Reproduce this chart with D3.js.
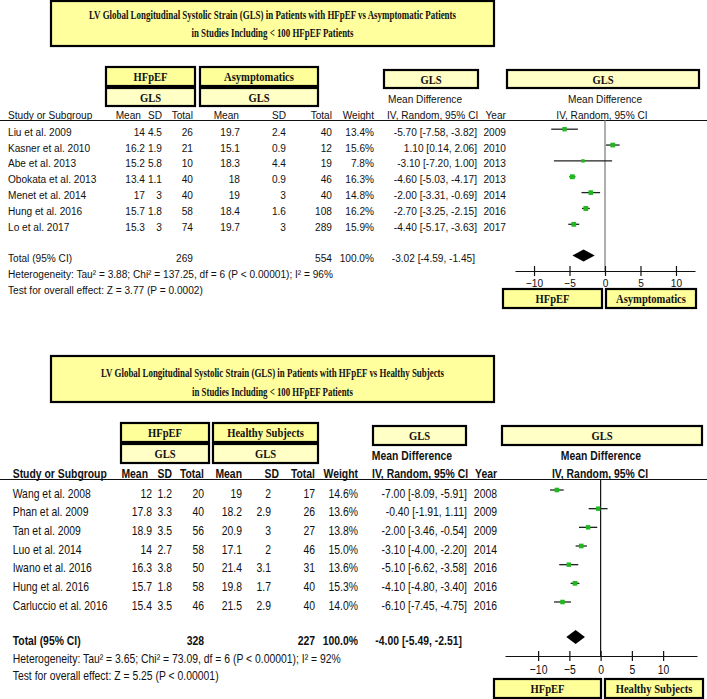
<!DOCTYPE html>
<html><head><meta charset="utf-8">
<script src="https://cdn.jsdelivr.net/npm/d3@7"></script>
<style>html,body{margin:0;padding:0;background:#fff;}svg{display:block;}</style>
</head><body>
<svg id="c" width="707" height="699"></svg>
<script>
// ---------- DATA ----------
const ticks = [-10, -5, 0, 5, 10];

const topTitle = ["LV Global  Longitudinal  Systolic Strain  (GLS)  in  Patients  with  HFpEF vs Asymptomatic  Patients", "in  Studies  Including  < 100 HFpEF Patients"];
const topGroups = ["HFpEF", "Asymptomatics"];
const topStudies = ["Liu et al. 2009", "Kasner et al. 2010", "Abe et al. 2013", "Obokata et al. 2013", "Menet et al. 2014", "Hung et al. 2016", "Lo et al. 2017"];
const topHfMean = [14, 16.2, 15.2, 13.4, 17, 15.7, 15.3];
const topHfSD = [4.5, 1.9, 5.8, 1.1, 3, 1.8, 3];
const topHfN = [26, 21, 10, 40, 40, 58, 74];
const topCtMean = [19.7, 15.1, 18.3, 18, 19, 18.4, 19.7];
const topCtSD = [2.4, 0.9, 4.4, 0.9, 3, 1.6, 3];
const topCtN = [40, 12, 19, 46, 40, 108, 289];
const topWeight = [13.4, 15.6, 7.8, 16.3, 14.8, 16.2, 15.9];
const topMD = [-5.70, 1.10, -3.10, -4.60, -2.00, -2.70, -4.40];
const topLo = [-7.58, 0.14, -7.20, -5.03, -3.31, -3.25, -5.17];
const topHi = [-3.82, 2.06, 1.00, -4.17, -0.69, -2.15, -3.63];
const topYear = [2009, 2010, 2013, 2013, 2014, 2016, 2017];
const topTotals = [269, 554];
const topPooled = [-3.02, -4.59, -1.45];
const topHet = "Heterogeneity: Tau\u00b2 = 3.88; Chi\u00b2 = 137.25, df = 6 (P < 0.00001); I\u00b2 = 96%";
const topTest = "Test for overall effect: Z = 3.77 (P = 0.0002)";

const botTitle = ["LV Global  Longitudinal  Systolic Strain  (GLS)  in  Patients  with  HFpEF vs Healthy  Subjects", "in  Studies  Including  < 100 HFpEF Patients"];
const botGroups = ["HFpEF", "Healthy Subjects"];
const botStudies = ["Wang et al. 2008", "Phan et al. 2009", "Tan et al. 2009", "Luo et al. 2014", "Iwano et al. 2016", "Hung et al. 2016", "Carluccio et al. 2016"];
const botHfMean = [12, 17.8, 18.9, 14, 16.3, 15.7, 15.4];
const botHfSD = [1.2, 3.3, 3.5, 2.7, 3.8, 1.8, 3.5];
const botHfN = [20, 40, 56, 58, 50, 58, 46];
const botCtMean = [19, 18.2, 20.9, 17.1, 21.4, 19.8, 21.5];
const botCtSD = [2, 2.9, 3, 2, 3.1, 1.7, 2.9];
const botCtN = [17, 26, 27, 46, 31, 40, 40];
const botWeight = [14.6, 13.6, 13.8, 15.0, 13.6, 15.3, 14.0];
const botMD = [-7.00, -0.40, -2.00, -3.10, -5.10, -4.10, -6.10];
const botLo = [-8.09, -1.91, -3.46, -4.00, -6.62, -4.80, -7.45];
const botHi = [-5.91, 1.11, -0.54, -2.20, -3.58, -3.40, -4.75];
const botYear = [2008, 2009, 2009, 2014, 2016, 2016, 2016];
const botTotals = [328, 227];
const botPooled = [-4.00, -5.49, -2.51];
const botHet = "Heterogeneity: Tau\u00b2 = 3.65; Chi\u00b2 = 73.09, df = 6 (P < 0.00001); I\u00b2 = 92%";
const botTest = "Test for overall effect: Z = 5.25 (P < 0.00001)";

// ---------- DRAWING ----------
const SANS = "'Liberation Sans', Arial, sans-serif";
const SERIF = "'Liberation Serif', 'Times New Roman', serif";
const svg = d3.select("#c");
const Y1 = "#ffff99", Y2 = "#ffffc6", YT = "#ffff9e";

function T(g, x, y, s, o) {
  o = o || {};
  const size = o.size || 11;
  return g.append("text")
    .attr("transform", `translate(${x},${y + size * 0.35}) scale(${o.sx || 1},1)`)
    .attr("text-anchor", o.a || "start")
    .style("font-family", o.f || SANS)
    .style("font-size", size + "px")
    .style("font-weight", o.w || "normal")
    .attr("fill", "#111")
    .text(s);
}
function box(g, x0, x1, y0, y1, fill, label, o) {
  g.append("rect").attr("x", x0).attr("y", y0).attr("width", x1 - x0).attr("height", y1 - y0)
    .attr("fill", fill).attr("stroke", "#000").attr("stroke-width", 2.2);
  if (label) T(g, (x0 + x1) / 2, (y0 + y1) / 2 + 0.5, label, Object.assign({a: "middle", f: SERIF, w: "bold", size: 11.5, sx: 0.92}, o || {}));
}
function titleBox(g, x0, x1, y0, y1, lines, widths, ys) {
  g.append("rect").attr("x", x0).attr("y", y0).attr("width", x1 - x0).attr("height", y1 - y0)
    .attr("fill", YT).attr("stroke", "#000").attr("stroke-width", 2.2);
  lines.forEach((l, i) => {
    g.append("text").attr("x", (x0 + x1) / 2).attr("y", ys[i] + 4.3).attr("text-anchor", "middle")
      .attr("textLength", widths[i]).attr("lengthAdjust", "spacingAndGlyphs")
      .style("font-family", SERIF).style("font-weight", "bold").style("font-size", "12.5px")
      .attr("fill", "#111").text(l);
  });
}
const f2 = v => v.toFixed(2);
const mdStr = (m, l, h) => `${f2(m)} [${f2(l)}, ${f2(h)}]`;

function panel(cfg) {
  const g = svg.append("g");
  const d = cfg.data, L = cfg.lay, o = {size: L.size, sx: L.sx};
  const ob = Object.assign({}, o, {w: L.hb ? "bold" : "normal"});
  titleBox(g, 51, 494, L.tY0, L.tY1, cfg.title, L.tW, L.tYs);
  // header boxes
  box(g, L.g1[0], L.g1[1], L.bA[0], L.bA[1], Y1, cfg.groups[0]);
  box(g, L.g1[0], L.g1[1], L.bB[0], L.bB[1], Y2, "GLS");
  box(g, L.g2[0], L.g2[1], L.bA[0], L.bA[1], Y1, cfg.groups[1]);
  box(g, L.g2[0], L.g2[1], L.bB[0], L.bB[1], Y2, "GLS");
  box(g, L.mdBox[0], L.mdBox[1], L.bC[0], L.bC[1], Y2, "GLS");
  box(g, L.fBox[0], L.fBox[1], L.bC[0], L.bC[1], Y2, "GLS");
  // header texts
  T(g, L.xName, L.hY, "Study or Subgroup", ob);
  const hc = L.hcols;
  ["Mean", "SD", "Total", "Mean", "SD", "Total", "Weight"].forEach((h, i) => T(g, hc[i], L.hY, h, Object.assign({a: "end"}, ob)));
  T(g, L.mdHC, L.mdHY, "Mean Difference", Object.assign({a: "middle"}, ob));
  T(g, L.ivX, L.hY, "IV, Random, 95% CI", ob);
  T(g, L.yearX, L.hY, "Year", Object.assign({a: "end"}, ob));
  T(g, L.fC, L.mdHY, "Mean Difference", Object.assign({a: "middle"}, ob));
  T(g, L.fC2, L.hY, "IV, Random, 95% CI", Object.assign({a: "middle"}, ob));
  g.append("line").attr("x1", 0).attr("x2", 707).attr("y1", L.hLine).attr("y2", L.hLine).attr("stroke", "#111").attr("stroke-width", 1);

  // rows
  const y = d3.scalePoint().domain(d.studies).range([L.r0, L.r1]);
  const c = L.cols;
  d.studies.forEach((s, i) => {
    const yy = y(s);
    T(g, L.xName, yy, s, o);
    T(g, c[0], yy, String(d.hfMean[i]), Object.assign({a: "end"}, o));
    T(g, c[1], yy, String(d.hfSD[i]), Object.assign({a: "end"}, o));
    T(g, c[2], yy, String(d.hfN[i]), Object.assign({a: "end"}, o));
    T(g, c[3], yy, String(d.ctMean[i]), Object.assign({a: "end"}, o));
    T(g, c[4], yy, String(d.ctSD[i]), Object.assign({a: "end"}, o));
    T(g, c[5], yy, String(d.ctN[i]), Object.assign({a: "end"}, o));
    T(g, c[6], yy, d.weight[i].toFixed(1) + "%", Object.assign({a: "end"}, o));
    T(g, L.mdR, yy, mdStr(d.md[i], d.lo[i], d.hi[i]), Object.assign({a: "end"}, o));
    T(g, L.yearX, yy, String(d.year[i]), Object.assign({a: "end"}, o));
  });
  // totals
  const ot = Object.assign({}, o, {w: L.hb ? "bold" : "normal"});
  T(g, L.xName, L.totY, "Total (95% CI)", ot);
  T(g, c[2], L.totY, String(d.totals[0]), Object.assign({a: "end"}, ot));
  T(g, c[5], L.totY, String(d.totals[1]), Object.assign({a: "end"}, ot));
  T(g, c[6], L.totY, "100.0%", Object.assign({a: "end"}, ot));
  T(g, L.totMdR, L.totY, mdStr(d.pooled[0], d.pooled[1], d.pooled[2]), Object.assign({a: "end"}, ot));
  T(g, L.xName, L.hetY, d.het, o);
  T(g, L.xName, L.testY, d.test, o);

  // forest
  const x = d3.scaleLinear().domain(L.dom).range(L.rng);
  g.append("line").attr("x1", x(0)).attr("x2", x(0)).attr("y1", L.hLine).attr("y2", L.axY)
    .attr("stroke", L.zeroCol).attr("stroke-width", L.zeroW);
  d.studies.forEach((s, i) => {
    const yy = y(s) + L.sqOff;
    g.append("line").attr("x1", x(d.lo[i])).attr("x2", x(d.hi[i])).attr("y1", yy).attr("y2", yy)
      .attr("stroke", "#222").attr("stroke-width", 1.3);
    const sz = L.sqK * Math.sqrt(d.weight[i]);
    g.append("rect").attr("x", x(d.md[i]) - sz / 2).attr("y", yy - sz / 2).attr("width", sz).attr("height", sz)
      .attr("fill", "#1fb81f");
  });
  const dy = L.totY + L.sqOff;
  g.append("path").attr("d", `M${x(d.pooled[1])},${dy} L${x(d.pooled[0])},${dy - L.dh} L${x(d.pooled[2])},${dy} L${x(d.pooled[0])},${dy + L.dh} Z`)
    .attr("fill", "#000");
  const ax = g.append("g").attr("transform", `translate(0,${L.axY})`)
    .call(d3.axisBottom(x).tickValues(ticks).tickSize(L.tk).tickSizeOuter(0).tickFormat(d3.format("d")));
  ax.select(".domain").attr("stroke", "#111").attr("stroke-width", 1.2);
  ax.selectAll(".tick line").attr("y1", -L.tk).attr("stroke", "#111").attr("stroke-width", 1.2);
  ax.selectAll(".tick text").attr("y", L.tkY).attr("dy", 0)
    .style("font-family", SANS).style("font-size", L.size + "px").attr("fill", "#111")
    .attr("transform", `scale(${L.sx},1)`);
  box(g, L.ft1[0], L.ft1[1], L.ftY[0], L.ftY[1], Y1, cfg.groups[0]);
  box(g, L.ft2[0], L.ft2[1], L.ftY[0], L.ftY[1], Y1, cfg.groups[1]);
}

panel({
  title: topTitle, groups: topGroups,
  data: {studies: topStudies, hfMean: topHfMean, hfSD: topHfSD, hfN: topHfN, ctMean: topCtMean, ctSD: topCtSD, ctN: topCtN,
    weight: topWeight, md: topMD, lo: topLo, hi: topHi, year: topYear, totals: topTotals, pooled: topPooled, het: topHet, test: topTest},
  lay: {size: 11.5, sx: 0.88, hb: false, tY0: 1, tY1: 46, tW: [367, 162], tYs: [15, 32.5],
    g1: [106, 195], g2: [200, 318], bA: [67, 86], bB: [88, 106], bC: [70, 88],
    mdBox: [384, 478], fBox: [507, 699],
    xName: 8, hY: 115, hcols: [141, 162, 193, 239, 286, 332, 374], mdHC: 425, mdHY: 99, ivX: 387, yearX: 506,
    fC: 605, fC2: 602, hLine: 120.5,
    r0: 131.7, r1: 226.8, cols: [145, 162, 193, 240, 286, 332, 374], mdR: 477,
    totY: 258, totMdR: 475, hetY: 274, testY: 290,
    dom: [-12.68, 12.68], rng: [515, 695], zeroCol: "#9a9a9a", zeroW: 1.6, sqOff: -2.5, sqK: 1.2, dh: 6,
    axY: 271, tk: 5, tkY: 16, ft1: [503, 602], ft2: [606, 696], ftY: [289, 308]}
});

panel({
  title: botTitle, groups: botGroups,
  data: {studies: botStudies, hfMean: botHfMean, hfSD: botHfSD, hfN: botHfN, ctMean: botCtMean, ctSD: botCtSD, ctN: botCtN,
    weight: botWeight, md: botMD, lo: botLo, hi: botHi, year: botYear, totals: botTotals, pooled: botPooled, het: botHet, test: botTest},
  lay: {size: 13, sx: 0.8, hb: true, tY0: 356, tY1: 402, tW: [343, 161], tYs: [373, 392],
    g1: [121, 209], g2: [213, 318], bA: [423, 442], bB: [444, 463], bC: [426, 445],
    mdBox: [373, 466], fBox: [502, 702],
    xName: 12.7, hY: 473, hcols: [148, 172, 204, 242, 279, 315, 358], mdHC: 412, mdHY: 455, ivX: 372, yearX: 497,
    fC: 601, fC2: 600, hLine: 479.5,
    r0: 493, r1: 605, cols: [152, 172, 204, 242, 271, 315, 358], mdR: 467,
    totY: 640, totMdR: 462, hetY: 658, testY: 675,
    dom: [-15.3, 15.42], rng: [505, 697], zeroCol: "#111", zeroW: 1.2, sqOff: -3, sqK: 1.2, dh: 7,
    axY: 656, tk: 5, tkY: 18.5, ft1: [494, 601], ft2: [605, 703], ftY: [679, 698]}
});
</script>
</body></html>
